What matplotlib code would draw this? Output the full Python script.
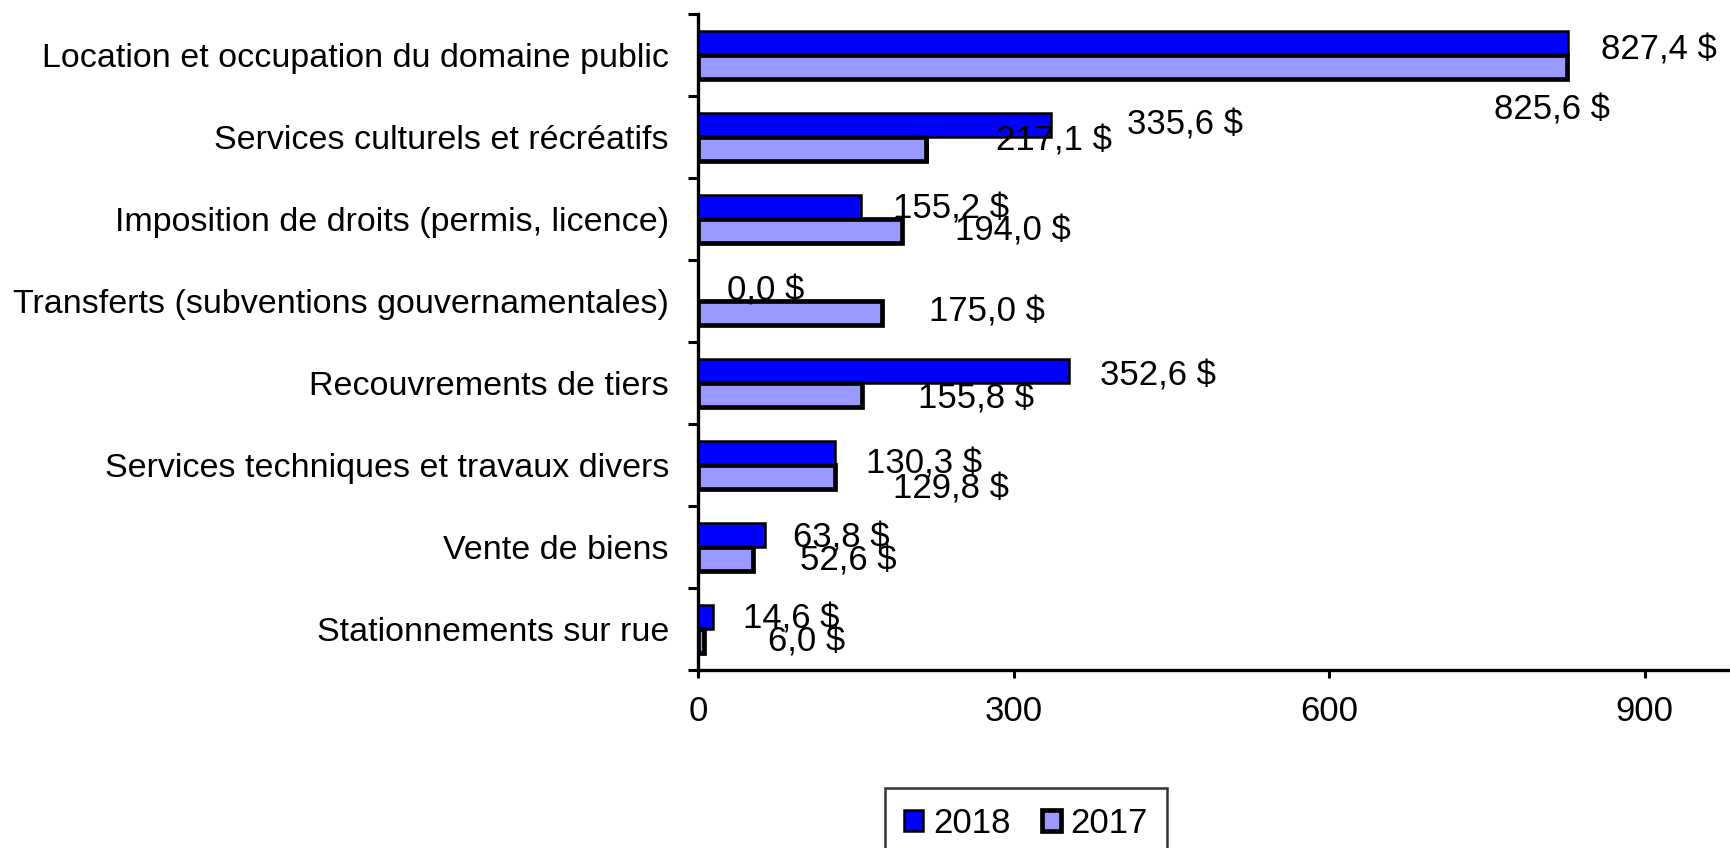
import matplotlib
matplotlib.use("Agg")
import matplotlib.pyplot as plt
import matplotlib.patheffects as pe
import numpy as np

plt.rcParams['font.family'] = ['Liberation Sans', 'DejaVu Sans']

# Données (en milliers de $)
categories = [
    "Location et occupation du domaine public",
    "Services culturels et récréatifs",
    "Imposition de droits (permis, licence)",
    "Transferts (subventions gouvernamentales)",
    "Recouvrements de tiers",
    "Services techniques et travaux divers",
    "Vente de biens",
    "Stationnements sur rue",
]
vals_2018 = [827.4, 335.6, 155.2, 0.0, 352.6, 130.3, 63.8, 14.6]
vals_2017 = [825.6, 217.1, 194.0, 175.0, 155.8, 129.8, 52.6, 6.0]
xticks = [0, 300, 600, 900]

# décalages des étiquettes (pixels), déplacées à la main dans l'original
off_2018 = [(33, -7), (76, 0), (32, -2), (29, -2), (31, -5), (31, -11), (28, -3), (30, -2)]
off_2017 = [(-73, -43), (70, 8), (53, 0), (47, 1), (56, -4), (58, -12), (47, -2), (64, -1)]

fig = plt.figure(figsize=(17.3, 8.48), dpi=100)
ax = fig.add_axes([0.4035, 0.2099, 0.5965, 0.7736])

y = np.arange(len(categories))
h = 0.29
b18 = ax.barh(y - h / 2, vals_2018, height=h, color='#0000FF',
              edgecolor='black', linewidth=1.8, label='2018', zorder=3)
b17 = ax.barh(y + h / 2, vals_2017, height=h, color='#9999FF',
              edgecolor='black', linewidth=3.4, label='2017', zorder=3)
for p in b17:
    p.set_path_effects([pe.SimplePatchShadow(offset=(1.5, -1.5), shadow_rgbFace='black', alpha=1),
                        pe.Normal()])


def fmt(v):
    return f"{v:.1f}".replace('.', ',') + " $"


for i in range(len(categories)):
    ax.annotate(fmt(vals_2018[i]), (vals_2018[i], y[i] - h / 2),
                xytext=off_2018[i], textcoords='offset pixels',
                ha='left', va='center', fontsize=25, zorder=4)
    ax.annotate(fmt(vals_2017[i]), (vals_2017[i], y[i] + h / 2),
                xytext=off_2017[i], textcoords='offset pixels',
                ha='left', va='center', fontsize=25, zorder=4)

ax.set_xlim(0, 981)
ax.set_ylim(len(categories) - 0.5, -0.5)
ax.set_xticks(xticks)
ax.set_xticklabels([str(t) for t in xticks], fontsize=25)
ax.set_yticks(y)
ax.set_yticklabels(categories, fontsize=24.5)
ax.set_yticks(np.arange(len(categories) + 1) - 0.5, minor=True)
ax.tick_params(axis='y', which='major', length=0, pad=21)
ax.tick_params(axis='y', which='minor', length=7.5, width=2.2, direction='out')
ax.tick_params(axis='x', length=6, width=2.2, direction='out', pad=12)

for s in ['top', 'right']:
    ax.spines[s].set_visible(False)
for s in ['left', 'bottom']:
    ax.spines[s].set_linewidth(2.4)

leg = fig.legend(handles=[b18, b17], labels=['2018', '2017'], ncol=2,
                 loc='upper center', bbox_to_anchor=(0.593, 0.0708),
                 fontsize=25, frameon=True, fancybox=False,
                 handlelength=0.55, handleheight=0.55, handletextpad=0.27,
                 columnspacing=0.9, borderpad=0.55, borderaxespad=0)
leg.get_frame().set_edgecolor('black')
leg.get_frame().set_linewidth(1.8)

fig.savefig("out.png", dpi=100)
